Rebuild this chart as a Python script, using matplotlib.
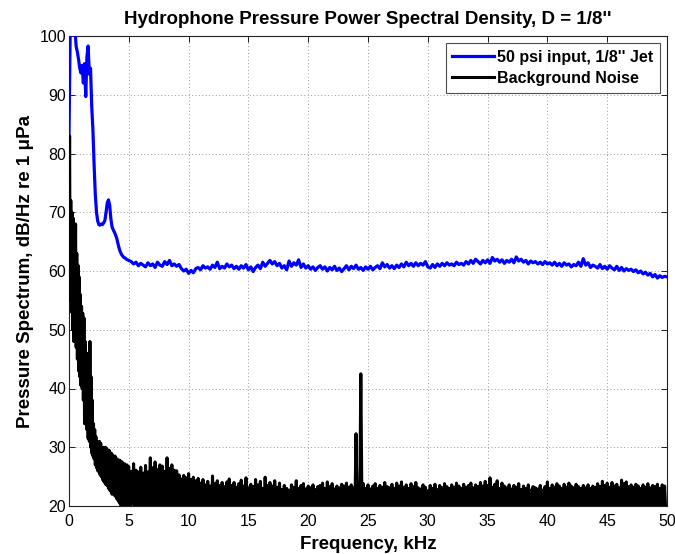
import numpy as np
import matplotlib
matplotlib.use("Agg")
import matplotlib.pyplot as plt

plt.rcParams['font.family'] = ['Liberation Sans', 'DejaVu Sans']

# ---------------- data ----------------
# Blue: 50 psi input, 1/8" jet  (0-4.9 kHz every 0.1 kHz, then 5-50 kHz every 0.2 kHz)
jet_freq_low = np.round(np.arange(0.0, 5.0, 0.1), 2)
jet_low = [83, 101, 102, 101, 100.5, 101, 98.2, 97.3, 96.0, 94.5,
           93.7, 95.0, 92.0, 95.3, 89.7, 96.5, 98.3, 93.5, 94.5, 88.0,
           84.0, 78.0, 73.0, 70.0, 68.5, 67.9, 67.8, 68.0, 67.9, 68.2,
           68.6, 70.0, 71.6, 72.1, 71.2, 68.9, 67.5, 67.0, 66.6, 66.1,
           65.5, 64.6, 63.8, 63.2, 62.8, 62.5, 62.3, 62.2, 62.0, 61.9]
jet_freq_high = np.round(np.arange(5.0, 50.01, 0.2), 2)
jet_high = [61.8, 61.6, 61.2, 61.5, 60.9, 61.3, 61.0, 60.7, 61.4, 60.9,
            61.2, 60.6, 61.5, 61.0, 60.8, 61.6, 61.1, 61.8, 60.9, 61.2,
            60.8, 61.1, 60.4, 60.0, 60.3, 59.6, 60.1, 59.7, 60.4, 60.6,
            60.2, 60.9, 60.5, 60.7, 60.3, 61.0, 60.6, 61.5, 60.4, 60.8,
            60.5, 61.2, 60.7, 61.0, 60.4, 60.8, 60.3, 60.9, 60.5, 61.1,
            60.2, 60.7, 59.9, 60.6, 61.0, 60.4, 61.5, 60.8, 61.3, 61.8,
            61.2, 61.6, 60.9, 61.3, 60.5, 60.9, 60.2, 61.7, 60.8, 61.4,
            61.0, 61.9, 60.6, 61.2, 60.5, 60.9, 60.3, 60.7, 60.1, 60.6,
            60.9, 60.3, 60.7, 60.0, 60.6, 60.2, 60.8, 60.1, 60.5, 59.9,
            60.4, 60.9, 60.2, 60.8, 60.4, 61.0, 60.3, 60.6, 60.1, 60.7,
            60.3, 60.8, 60.2, 60.6, 60.9, 60.4, 61.4, 60.7, 61.1, 60.5,
            60.9, 60.4, 61.0, 60.6, 61.2, 60.7, 61.5, 60.9, 61.3, 60.8,
            61.4, 60.9, 61.3, 61.0, 61.6, 60.7, 60.5, 61.1, 60.6, 61.2,
            60.8, 61.3, 60.9, 61.4, 61.0, 61.2, 60.9, 61.5, 61.1, 61.3,
            61.0, 61.6, 61.2, 61.8, 61.3, 62.0, 61.6, 61.2, 61.8, 61.4,
            61.9, 61.3, 62.3, 61.7, 62.0, 61.5, 61.9, 61.3, 61.8, 61.5,
            62.0, 61.4, 62.4, 61.7, 62.0, 61.5, 61.8, 61.2, 61.7, 61.4,
            61.6, 61.2, 61.5, 61.1, 61.6, 61.2, 61.4, 61.0, 61.5, 60.9,
            61.3, 60.8, 61.4, 61.0, 61.2, 60.7, 61.1, 60.9, 61.5, 60.8,
            62.1, 61.0, 61.4, 60.6, 61.0, 60.8, 60.5, 61.1, 60.4, 60.8,
            60.3, 60.9, 60.5, 60.2, 60.8, 60.1, 60.6, 60.0, 60.4, 60.1,
            60.3, 59.9, 60.2, 59.7, 60.0, 59.5, 59.8, 59.3, 59.6, 59.0,
            59.4, 58.8, 59.2, 58.9, 59.1, 59.0]

# Black: background noise, 0-4.95 kHz every 0.05 kHz
noise_freq_low = np.round(np.arange(0.0, 5.0, 0.05), 3)
noise_low = [60.0, 83.0, 55.0, 72.0, 53.0, 70.0, 50.0, 69.0, 48.0, 66.0,
             49.0, 68.0, 47.0, 63.0, 45.0, 61.0, 43.0, 59.0, 42.0, 56.0,
             40.5, 54.0, 40.0, 52.8, 38.0, 52.0, 34.0, 48.0, 35.0, 46.0,
             33.0, 44.0, 31.5, 46.0, 31.0, 48.0, 30.0, 42.0, 29.0, 38.0,
             28.5, 34.0, 28.0, 33.0, 27.0, 31.8, 26.5, 31.0, 26.0, 30.5,
             25.8, 31.0, 25.3, 30.7, 25.0, 29.5, 24.5, 30.0, 24.2, 29.4,
             23.9, 30.0, 23.6, 29.8, 23.5, 29.0, 23.0, 29.5, 22.7, 28.8,
             22.5, 29.0, 22.0, 28.7, 22.4, 28.2, 21.8, 28.5, 21.6, 27.8,
             21.2, 28.0, 21.0, 27.3, 20.6, 27.8, 20.2, 26.8, 19.8, 27.5,
             19.5, 26.6, 19.2, 27.2, 19.0, 26.5, 19.0, 27.0, 18.8, 26.4]

# Black 5-50 kHz: peaks at 5.0, 5.2, ... 49.8 kHz and troughs at 5.1, 5.3, ... 49.9 kHz
noise_freq_peak = np.round(np.arange(5.0, 50.0, 0.2), 2)
noise_freq_trough = np.round(noise_freq_peak + 0.1, 2)
noise_peak = [26.7, 25.9, 27.2, 26.1, 25.8, 26.6, 25.6, 26.9, 25.8, 28.2,
              26.5, 27.5, 26.2, 27.0, 26.8, 25.9, 28.2, 26.4, 27.0, 26.1,
              26.0, 25.3, 24.6, 25.2, 24.8, 25.5, 24.5, 24.9, 24.3, 24.7,
              23.9, 24.5, 23.6, 24.2, 23.4, 25.1, 23.8, 24.3, 23.5, 24.0,
              23.3, 24.1, 24.6, 23.5, 24.0, 23.2, 23.8, 24.4, 23.4, 24.8,
              23.1, 23.7, 23.3, 24.5, 23.6, 24.2, 23.0, 24.9, 23.5, 24.0,
              23.4, 24.3, 23.2, 23.9, 22.8, 23.5, 23.0, 22.7, 23.6, 23.2,
              24.3, 23.0, 23.5, 23.8, 22.9, 23.4, 23.1, 23.6, 22.8, 23.3,
              23.5, 23.9, 23.0, 24.1, 23.3, 23.8, 22.9, 23.4, 23.1, 23.7,
              23.4, 23.9, 23.2, 23.6, 23.1, 32.3, 23.5, 42.5, 23.8, 23.0,
              23.6, 22.9, 23.4, 23.8, 23.0, 23.5, 23.2, 24.0, 23.3, 23.1,
              23.7, 23.0, 23.9, 23.4, 24.1, 23.2, 23.6, 23.0, 23.8, 23.3,
              24.0, 23.1, 22.9, 23.6, 23.2, 22.6, 23.5, 23.0, 23.7, 22.8,
              23.5, 23.1, 23.8, 23.3, 23.0, 23.6, 23.2, 23.9, 23.4, 23.0,
              23.7, 23.2, 23.5, 23.9, 23.1, 23.6, 23.3, 24.0, 23.4, 24.2,
              23.5, 24.8, 23.2, 23.7, 24.3, 23.0, 23.9, 23.4, 23.1, 23.6,
              22.9, 23.5, 23.2, 23.8, 22.8, 23.4, 23.0, 23.6, 22.7, 23.3,
              23.1, 22.9, 23.5, 22.7, 23.3, 24.1, 23.0, 23.6, 23.2, 23.8,
              23.4, 23.0, 23.7, 23.2, 23.9, 23.4, 23.1, 23.7, 23.3, 23.0,
              23.5, 23.1, 23.6, 23.0, 23.4, 23.2, 23.8, 23.3, 24.2, 23.5,
              23.9, 23.2, 24.0, 23.4, 23.7, 23.1, 24.4, 23.8, 24.1, 23.3,
              23.6, 23.2, 23.7, 23.4, 23.0, 23.6, 23.2, 23.8, 23.1, 23.5,
              23.3, 23.7, 23.0, 23.6, 23.4]
noise_trough = [19.4, 20.3, 18.8, 19.6, 20.1, 18.9, 19.7, 19.2, 20.2, 18.7,
                19.5, 18.9, 19.8, 18.6, 19.3, 19.9, 18.8, 19.4, 18.5, 19.6,
                18.9, 19.2, 18.4, 19.7, 18.8, 19.3, 18.6, 19.5, 18.9, 18.3,
                19.1, 18.7, 19.4, 18.5, 19.0, 18.8, 19.3, 18.4, 19.2, 18.9,
                18.6, 19.4, 18.7, 19.1, 18.5, 19.3, 18.8, 18.4, 19.0, 18.6,
                19.2, 18.5, 19.1, 18.8, 18.3, 19.0, 18.7, 19.3, 18.6, 18.9,
                18.4, 19.1, 18.8, 18.5, 19.2, 18.7, 18.9, 18.3, 19.0, 18.6,
                19.1, 18.5, 18.8, 19.2, 18.4, 18.9, 18.7, 19.0, 18.5, 18.8,
                18.6, 19.1, 18.4, 18.9, 18.7, 19.2, 18.5, 18.8, 19.0, 18.6,
                18.9, 18.4, 19.1, 18.7, 18.5, 19.0, 18.8, 18.6, 19.2, 18.5,
                18.8, 19.1, 18.6, 18.9, 18.4, 19.0, 18.7, 18.5, 19.1, 18.8,
                18.6, 18.9, 18.4, 19.2, 18.7, 18.5, 19.0, 18.8, 18.6, 19.1,
                18.5, 18.9, 18.7, 18.4, 19.0, 18.6, 18.8, 19.1, 18.5, 18.9,
                18.7, 18.4, 19.0, 18.6, 18.9, 18.5, 19.1, 18.7, 18.8, 18.4,
                19.0, 18.6, 18.9, 18.5, 19.2, 18.7, 18.4, 18.9, 18.6, 19.0,
                18.8, 18.5, 19.1, 18.6, 18.9, 18.4, 19.0, 18.7, 18.5, 18.9,
                18.6, 19.1, 18.8, 18.4, 18.9, 18.6, 19.0, 18.5, 18.8, 18.7,
                19.1, 18.6, 18.9, 18.4, 19.0, 18.7, 18.5, 19.2, 18.8, 18.6,
                18.9, 18.5, 19.0, 18.7, 18.4, 19.1, 18.6, 18.8, 18.5, 19.0,
                18.7, 18.9, 18.4, 19.1, 18.6, 18.8, 18.5, 19.9, 18.7, 18.9,
                18.6, 19.0, 18.5, 18.8, 19.1, 18.6, 18.9, 18.4, 19.0, 18.7,
                18.5, 18.9, 18.6, 19.1, 18.8, 18.4, 18.9, 18.7, 19.0, 18.6,
                18.8, 18.5, 19.0, 18.7, 18.9]

x_ticks = [0, 5, 10, 15, 20, 25, 30, 35, 40, 45, 50]
y_ticks = [20, 30, 40, 50, 60, 70, 80, 90, 100]
labels = ["50 psi input, 1/8'' Jet", "Background Noise"]

# ---------------- build series ----------------
jet_freq = np.concatenate([jet_freq_low, jet_freq_high])
jet_vals = np.array(jet_low + jet_high)

hi_freq = np.empty(2 * len(noise_freq_peak))
hi_freq[0::2] = noise_freq_peak
hi_freq[1::2] = noise_freq_trough
hi_vals = np.empty(2 * len(noise_peak))
hi_vals[0::2] = noise_peak
hi_vals[1::2] = noise_trough
noise_freq = np.concatenate([noise_freq_low, hi_freq])
noise_vals = np.concatenate([np.array(noise_low), hi_vals])

# ---------------- plot ----------------
fig = plt.figure(figsize=(6.75, 5.54), dpi=100)
ax = fig.add_axes([69 / 675, 1 - 506 / 554, (667 - 69) / 675, (506 - 36) / 554])

ax.plot(jet_freq, jet_vals, color='#0000ff', lw=2.3, label=labels[0], zorder=3)
ax.plot(noise_freq, noise_vals, color='black', lw=2.2, label=labels[1], zorder=4)

ax.set_xlim(0, 50)
ax.set_ylim(20, 100)
ax.set_xticks(x_ticks)
ax.set_yticks(y_ticks)
ax.tick_params(direction='in', length=4, width=0.6, labelsize=11.5,
               top=True, right=True)
ax.tick_params(axis='x', pad=6)
ax.tick_params(axis='y', pad=2)
for s in ax.spines.values():
    s.set_linewidth(0.8)
    s.set_color('#222222')
ax.grid(True, linestyle=(0, (1, 2.5)), color='#9a9a9a', linewidth=0.7)

ax.set_title("Hydrophone Pressure Power Spectral Density, D = 1/8''",
             fontsize=13.5, fontweight='bold', pad=9)
ax.set_xlabel("Frequency, kHz", fontsize=13.5, fontweight='bold', labelpad=5)
ax.set_ylabel("Pressure Spectrum, dB/Hz re 1 μPa", fontsize=13.5,
              fontweight='bold', labelpad=4)

leg = ax.legend(loc='upper right', fontsize=11.5, frameon=True, fancybox=False,
                borderaxespad=0.44, handlelength=2.6, handletextpad=0.2,
                borderpad=0.42, labelspacing=0.38)
leg.get_frame().set_edgecolor('#222222')
leg.get_frame().set_linewidth(0.8)
for t in leg.get_texts():
    t.set_fontweight('bold')

fig.savefig("out.png", dpi=100)
